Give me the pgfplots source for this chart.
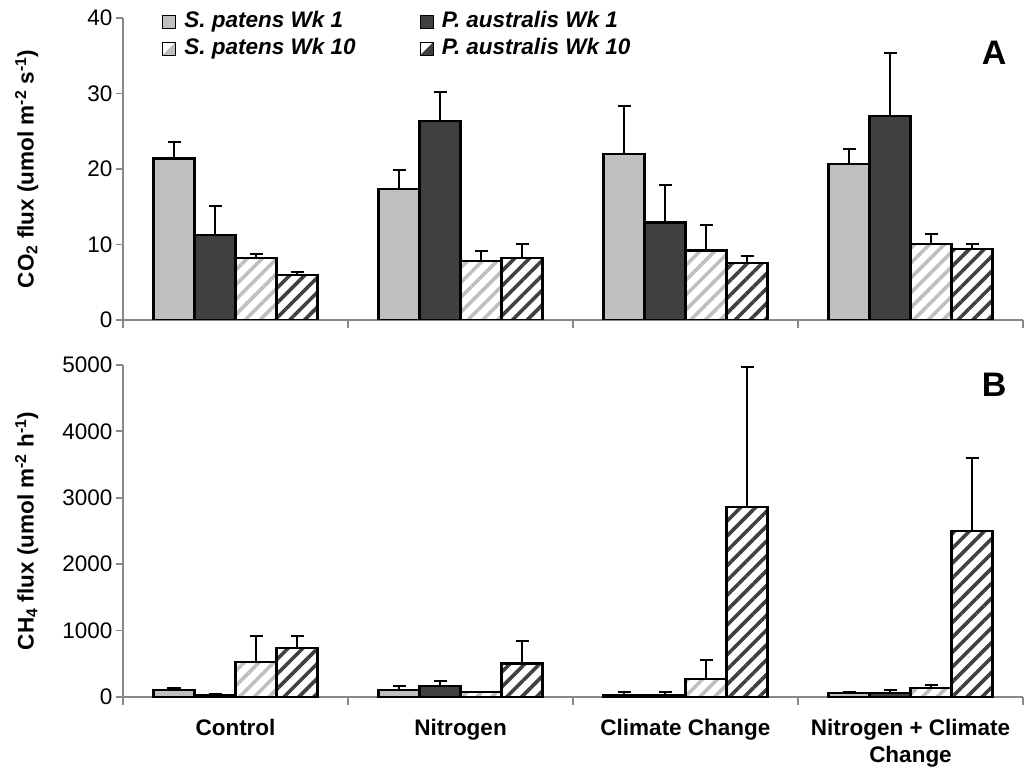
\documentclass[border=0pt]{standalone}
\usepackage{pgfplots}
\pgfplotsset{compat=1.18}
\usepackage{pgfplotstable}
\usepackage{fontspec}
\setmainfont{Liberation Sans}
\usetikzlibrary{patterns.meta}
\definecolor{lgray}{RGB}{191,191,191}
\definecolor{dgray}{RGB}{64,64,64}
\definecolor{axgray}{RGB}{137,137,137}
\newcommand\fs{\fontsize{22.5bp}{27bp}\selectfont}

\pgfplotstableread{
x sw1 sw1e pw1 pw1e sw10 sw10e pw10 pw10e
0 21.4 2.2 11.3 3.75 8.2 0.6 5.95 0.4
1 17.3 2.6 26.4 3.8 7.8 1.4 8.2 1.9
2 22.0 6.3 12.9 5.0 9.2 3.4 7.5 1.0
3 20.7 1.9 27.0 8.3 10.05 1.3 9.45 0.65
}\cotwo

\pgfplotstableread{
x sw1 sw1e pw1 pw1e sw10 sw10e pw10 pw10e
0 100 40 35 15 530 395 740 185
1 100 70 170 70 70 10 505 345
2 25 45 25 45 275 285 2865 2105
3 65 10 65 35 135 40 2500 1105
}\chfour

\pgfplotsset{
  panel/.style={
    scale only axis, width=900bp,
    xmin=-0.5, xmax=3.5, ymin=0,
    ybar=0pt, bar width=41bp,
    axis x line*=bottom, axis y line*=left,
    axis line style={draw=axgray, line width=2bp, -},
    tick style={draw=axgray, line width=1.8bp},
    tick align=outside,
    major tick length=7bp, minor tick length=8bp,
    xtick={0,1,2,3},
    minor xtick={-0.5,0.5,1.5,2.5,3.5},
    major x tick style={draw=none},
    /pgf/number format/1000 sep={},
    scaled y ticks=false,
    yticklabel={\pgfmathprintnumber[assume math mode=true]{\tick}},
    yticklabel style={font=\fs},
    every axis y label/.style={at={(axis description cs:-0.107,0.5)}, rotate=90, anchor=center, font=\fs\bfseries},
    error bars/error bar style={black, line width=2bp},
    error bars/error mark options={rotate=90, mark size=6.5bp, line width=2bp, black},
  },
  sw1/.style={draw=black, line width=2.2bp, fill=lgray},
  pw1/.style={draw=black, line width=2.2bp, fill=dgray},
  sw10/.style={draw=black, line width=2.2bp, pattern={Lines[angle=45,distance=10.5bp,line width=3.6bp]}, pattern color=lgray},
  pw10/.style={draw=black, line width=2.2bp, pattern={Lines[angle=45,distance=10.5bp,line width=3.6bp]}, pattern color=dgray},
  leg1/.style={legend image code/.code={\draw[black, line width=1.3bp, fill=#1] (0bp,-6.5bp) rectangle (13bp,6.5bp);}},
  leg10/.style={legend image code/.code={\fill[white] (0bp,-6.5bp) rectangle (13bp,6.5bp); \fill[#1] (0bp,-6.5bp) -- (13bp,-6.5bp) -- (13bp,6.5bp) -- cycle; \draw[black, line width=1.3bp] (0bp,-6.5bp) rectangle (13bp,6.5bp);}},
}

\begin{document}
\begin{tikzpicture}
\path[use as bounding box] (0,0) rectangle (1028bp,773bp);

\begin{axis}[panel, height=302bp, at={(123bp,453bp)}, anchor=south west,
  ymax=40, ytick={0,10,20,30,40},
  xticklabels={,,,},
  ylabel={CO\textsubscript{2} flux (umol m\textsuperscript{-2} s\textsuperscript{-1})},
  legend columns=2,
  legend cell align=left,
  legend style={at={(axis description cs:0.0433,1.026)}, anchor=north west, draw=none, fill=none,
    inner sep=0pt, outer sep=0pt,
    font=\fs\bfseries\itshape, row sep=3.5bp,
    nodes={inner sep=1bp, text height=16.5bp, text depth=5bp},
    /tikz/every odd column/.append style={column sep=7bp},
    /tikz/every even column/.append style={column sep=63bp}},
]
\addlegendimage{leg1=lgray}
\addlegendentry{S. patens Wk 1}
\addlegendimage{leg1=dgray}
\addlegendentry{P. australis Wk 1}
\addlegendimage{leg10=lgray}
\addlegendentry{S. patens Wk 10}
\addlegendimage{leg10=dgray}
\addlegendentry{P. australis Wk 10}
\addplot+[sw1, error bars/.cd, y dir=plus, y explicit] table[x=x,y=sw1,y error=sw1e]{\cotwo};
\addplot+[pw1, error bars/.cd, y dir=plus, y explicit] table[x=x,y=pw1,y error=pw1e]{\cotwo};
\addplot+[sw10, error bars/.cd, y dir=plus, y explicit] table[x=x,y=sw10,y error=sw10e]{\cotwo};
\addplot+[pw10, error bars/.cd, y dir=plus, y explicit] table[x=x,y=pw10,y error=pw10e]{\cotwo};
\node[font=\fontsize{34bp}{40bp}\selectfont\bfseries] at (axis description cs:0.968,0.884) {A};
\end{axis}

\begin{axis}[panel, height=332bp, at={(123bp,76bp)}, anchor=south west,
  ymax=5000, ytick={0,1000,2000,3000,4000,5000},
  xticklabels={Control,Nitrogen,Climate Change,{Nitrogen + Climate\\Change}},
  xticklabel style={font=\fs\bfseries, align=center, yshift=-12bp},
  ylabel={CH\textsubscript{4} flux (umol m\textsuperscript{-2} h\textsuperscript{-1})},
]
\addplot+[sw1, error bars/.cd, y dir=plus, y explicit] table[x=x,y=sw1,y error=sw1e]{\chfour};
\addplot+[pw1, error bars/.cd, y dir=plus, y explicit] table[x=x,y=pw1,y error=pw1e]{\chfour};
\addplot+[sw10, error bars/.cd, y dir=plus, y explicit] table[x=x,y=sw10,y error=sw10e]{\chfour};
\addplot+[pw10, error bars/.cd, y dir=plus, y explicit] table[x=x,y=pw10,y error=pw10e]{\chfour};
\node[font=\fontsize{34bp}{40bp}\selectfont\bfseries] at (axis description cs:0.968,0.94) {B};
\end{axis}
\end{tikzpicture}
\end{document}
